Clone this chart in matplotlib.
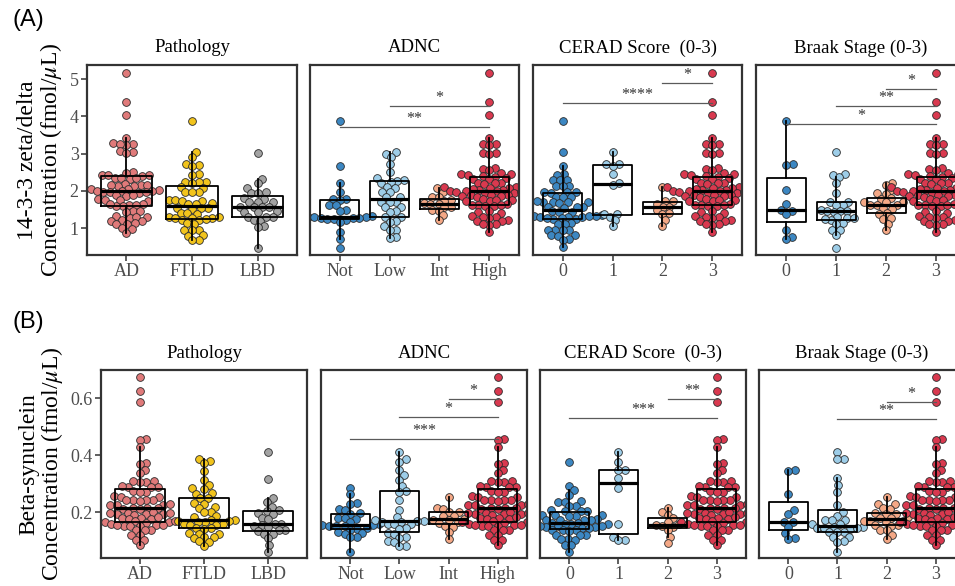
import matplotlib.pyplot as plt
import numpy as np

plt.rcParams['font.family'] = ['Liberation Serif', 'DejaVu Serif']
plt.rcParams['mathtext.fontset'] = 'stix'

# ---- (A) 14-3-3 zeta/delta, fmol/uL ----
zeta_ad = [5.17, 4.38, 4.03, 3.43, 3.28, 3.25, 3.22, 3.27, 3.07, 3.05, 3.03, 2.52, 2.49,
           2.44, 2.43, 2.42, 2.41, 2.36, 2.34, 2.31, 2.35, 2.19, 2.15, 2.12, 2.17, 2.13, 2.15,
           1.94, 2.06, 1.98, 2.02, 2.00, 1.96, 2.04, 1.99, 2.01, 1.97, 1.89, 1.86, 1.88,
           1.77, 1.75, 1.73, 1.76, 1.65, 1.62, 1.59, 1.60, 1.63, 1.66, 1.47, 1.44, 1.45,
           1.33, 1.30, 1.28, 1.31, 1.22, 1.20, 1.18, 1.13, 1.10, 1.12, 1.01, 0.98, 0.88]
zeta_ftld = [3.88, 3.04, 2.90, 2.72, 2.70, 2.68, 2.46, 2.44, 2.25, 2.24, 2.23, 2.22, 2.11, 2.09,
             1.98, 1.97, 1.96, 1.76, 1.75, 1.74, 1.73, 1.67, 1.66, 1.65, 1.54, 1.53, 1.52, 1.55,
             1.41, 1.40, 1.39, 1.29, 1.26, 1.22, 1.27, 1.24, 1.30, 1.23, 1.28, 1.13, 1.11,
             0.96, 0.95, 0.94, 0.82, 0.80, 0.69, 0.67]
zeta_lbd = [3.03, 2.33, 2.21, 2.09, 1.96, 1.95, 1.94, 1.81, 1.79, 1.71, 1.70, 1.69, 1.58, 1.57,
            1.56, 1.57, 1.45, 1.44, 1.43, 1.31, 1.30, 1.29, 1.22, 1.20, 1.05, 1.04, 0.48]
zeta_adnc_not = [3.88, 2.67, 2.20, 1.97, 1.78, 1.77, 1.76, 1.63, 1.61, 1.49, 1.47, 1.33, 1.31,
                 1.30, 1.29, 1.28, 1.27, 1.25, 1.26, 1.24, 1.22, 1.17, 0.90, 0.70, 0.48]
zeta_adnc_low = [3.04, 3.00, 2.90, 2.73, 2.50, 2.35, 2.29, 2.27, 2.25, 2.22, 2.11, 2.09, 1.98,
                 1.96, 1.85, 1.83, 1.71, 1.70, 1.69, 1.58, 1.56, 1.45, 1.43, 1.31, 1.29, 1.18,
                 1.16, 1.05, 0.96, 0.94, 0.76, 0.74]
zeta_adnc_int = [2.08, 1.97, 1.85, 1.83, 1.76, 1.74, 1.67, 1.66, 1.65, 1.58, 1.56, 1.49, 1.47,
                 1.35, 1.21]
zeta_adnc_high = [5.17, 4.38, 4.03, 3.43, 3.27, 3.25, 3.22, 3.03, 3.01, 2.98, 2.62, 2.58, 2.55,
                  2.48, 2.46, 2.45, 2.44, 2.40, 2.38, 2.35, 2.33, 2.32, 2.22, 2.21, 2.20, 2.19,
                  2.11, 2.10, 2.09, 2.08, 2.05, 2.02, 1.95, 2.00, 1.97, 2.03, 1.99, 1.94, 2.06,
                  2.01, 1.98, 1.96, 1.90, 1.88, 1.85, 1.87, 1.86, 1.89, 1.78, 1.75, 1.72, 1.74,
                  1.76, 1.65, 1.62, 1.59, 1.63, 1.61, 1.60, 1.47, 1.44, 1.42, 1.33, 1.30, 1.28,
                  1.31, 1.22, 1.20, 1.19, 1.11, 1.09, 1.12, 0.90]
zeta_cerad_0 = [3.88, 3.04, 2.67, 2.46, 2.44, 2.30, 2.29, 2.28, 2.14, 2.13, 2.12, 1.98, 1.97,
                1.96, 1.95, 1.85, 1.84, 1.83, 1.71, 1.70, 1.69, 1.72, 1.70, 1.68, 1.58, 1.57,
                1.56, 1.55, 1.45, 1.44, 1.43, 1.36, 1.33, 1.31, 1.29, 1.27, 1.34, 1.25, 1.30,
                1.24, 1.35, 1.28, 1.32, 1.13, 1.12, 1.11, 0.96, 0.95, 0.94, 0.96, 0.82, 0.81,
                0.80, 0.71, 0.69, 0.50]
zeta_cerad_1 = [3.04, 2.73, 2.72, 2.68, 2.46, 2.22, 2.15, 1.39, 1.38, 1.30, 1.21, 1.05]
zeta_cerad_2 = [2.10, 1.73, 1.72, 1.66, 1.58, 1.57, 1.48, 1.40, 1.38, 1.21, 1.05]
zeta_cerad_3 = zeta_adnc_high
zeta_braak_0 = [3.88, 2.72, 2.70, 2.02, 1.66, 1.50, 1.46, 1.39, 0.96, 0.77, 0.72]
zeta_braak_1 = [3.04, 2.46, 2.44, 2.37, 2.21, 1.95, 1.71, 1.69, 1.63, 1.61, 1.49, 1.47, 1.46,
                1.45, 1.44, 1.29, 1.26, 1.23, 1.27, 1.24, 1.13, 1.11, 0.96, 0.94, 0.81, 0.48]
zeta_braak_2 = [2.21, 2.15, 2.02, 1.94, 1.92, 1.81, 1.79, 1.71, 1.70, 1.69, 1.63, 1.62, 1.61,
                1.54, 1.52, 1.40, 1.38, 1.27, 1.25, 1.12, 0.95]
zeta_braak_3 = zeta_adnc_high

# ---- (B) beta-synuclein, fmol/uL ----
beta_ad = [0.675, 0.627, 0.586, 0.457, 0.455, 0.431, 0.372, 0.370, 0.349, 0.337, 0.310, 0.308,
           0.306, 0.309, 0.291, 0.290, 0.289, 0.292, 0.274, 0.273, 0.272, 0.256, 0.255, 0.254,
           0.244, 0.243, 0.242, 0.245, 0.241, 0.227, 0.226, 0.225, 0.228, 0.215, 0.214, 0.213,
           0.216, 0.212, 0.199, 0.196, 0.193, 0.198, 0.194, 0.200, 0.197, 0.192, 0.181, 0.179,
           0.177, 0.183, 0.176, 0.169, 0.167, 0.165, 0.170, 0.164, 0.158, 0.155, 0.152, 0.157,
           0.151, 0.156, 0.154, 0.139, 0.138, 0.137, 0.121, 0.119, 0.104, 0.102, 0.085]
beta_ftld = [0.387, 0.380, 0.372, 0.347, 0.314, 0.296, 0.285, 0.283, 0.268, 0.266, 0.251, 0.249,
             0.233, 0.231, 0.219, 0.217, 0.203, 0.201, 0.186, 0.184, 0.174, 0.171, 0.169, 0.172,
             0.166, 0.167, 0.161, 0.159, 0.157, 0.156, 0.145, 0.144, 0.143, 0.127, 0.126, 0.125,
             0.113, 0.112, 0.111, 0.098, 0.096, 0.082]
beta_lbd = [0.411, 0.317, 0.252, 0.238, 0.220, 0.207, 0.204, 0.198, 0.195, 0.180, 0.178, 0.160,
            0.158, 0.155, 0.152, 0.150, 0.140, 0.137, 0.134, 0.126, 0.125, 0.109, 0.085, 0.062]
beta_adnc_not = [0.287, 0.263, 0.233, 0.231, 0.211, 0.209, 0.197, 0.195, 0.180, 0.179, 0.178,
                 0.168, 0.158, 0.156, 0.155, 0.153, 0.152, 0.151, 0.145, 0.143, 0.140, 0.131,
                 0.128, 0.125, 0.115, 0.113, 0.062]
beta_adnc_low = [0.413, 0.387, 0.378, 0.349, 0.331, 0.314, 0.293, 0.274, 0.272, 0.243, 0.208,
                 0.185, 0.173, 0.171, 0.170, 0.168, 0.166, 0.160, 0.159, 0.158, 0.145, 0.143,
                 0.127, 0.125, 0.113, 0.111, 0.098, 0.096, 0.083, 0.081]
beta_adnc_int = [0.253, 0.215, 0.213, 0.203, 0.201, 0.188, 0.186, 0.176, 0.175, 0.174, 0.165,
                 0.163, 0.151, 0.149, 0.132, 0.105]
beta_adnc_high = beta_ad
beta_cerad_0 = [0.376, 0.294, 0.279, 0.261, 0.239, 0.238, 0.237, 0.223, 0.221, 0.207, 0.206,
                0.205, 0.204, 0.192, 0.191, 0.190, 0.189, 0.188, 0.176, 0.175, 0.174, 0.173,
                0.172, 0.164, 0.161, 0.158, 0.163, 0.160, 0.159, 0.155, 0.152, 0.148, 0.146,
                0.154, 0.150, 0.153, 0.147, 0.139, 0.138, 0.137, 0.136, 0.121, 0.120, 0.119,
                0.106, 0.105, 0.104, 0.086, 0.084, 0.062]
beta_cerad_1 = [0.413, 0.378, 0.350, 0.348, 0.320, 0.284, 0.161, 0.114, 0.104, 0.103]
beta_cerad_2 = [0.214, 0.202, 0.191, 0.179, 0.167, 0.159, 0.155, 0.152, 0.150, 0.138, 0.112,
                0.091]
beta_cerad_3 = beta_ad
beta_braak_0 = [0.348, 0.346, 0.264, 0.210, 0.196, 0.168, 0.165, 0.150, 0.128, 0.110, 0.108]
beta_braak_1 = [0.413, 0.388, 0.386, 0.320, 0.296, 0.273, 0.226, 0.202, 0.187, 0.174, 0.173,
                0.172, 0.160, 0.158, 0.150, 0.147, 0.143, 0.149, 0.145, 0.144, 0.133, 0.132,
                0.131, 0.115, 0.113, 0.098, 0.096, 0.062]
beta_braak_2 = [0.253, 0.230, 0.228, 0.215, 0.213, 0.197, 0.196, 0.195, 0.183, 0.182, 0.181,
                0.171, 0.170, 0.169, 0.168, 0.156, 0.155, 0.154, 0.139, 0.137, 0.120, 0.105]
beta_braak_3 = beta_ad

path_labels = ['AD', 'FTLD', 'LBD']
adnc_labels = ['Not', 'Low', 'Int', 'High']
stage_labels = ['0', '1', '2', '3']
titles = ['Pathology', 'ADNC', 'CERAD Score  (0-3)', 'Braak Stage (0-3)']
path_colors = ['#E07A7A', '#F2C41C', '#A3A3A3']
stage_colors = ['#3C87C2', '#9DCDE8', '#F4A886', '#D9394F']

# (from, to, height, label)
zeta_sig = [[], [(1, 3, 4.27, '*'), (0, 3, 3.71, '**')],
            [(2, 3, 4.89, '*'), (0, 3, 4.35, '****')],
            [(2, 3, 4.73, '*'), (1, 3, 4.27, '**'), (0, 3, 3.79, '*')]]
beta_sig = [[], [(2, 3, 0.598, '*'), (1, 3, 0.534, '*'), (0, 3, 0.458, '***')],
            [(2, 3, 0.598, '**'), (0, 3, 0.532, '***')],
            [(2, 3, 0.589, '*'), (1, 3, 0.528, '**')]]

W, H = 955, 586
fig = plt.figure(figsize=(W / 100, H / 100), dpi=100)


def swarm_x(ax, values, center, diam=6.6):
    # simple beeswarm: place points bottom-up, as close to the centre as possible
    pts = ax.transData.transform(np.column_stack([np.full(len(values), center), values]))
    ys = pts[:, 1]
    order = np.argsort(ys)
    offs = np.zeros(len(values))
    placed = []
    for i in order:
        y = ys[i]
        near = [(px, py) for px, py in placed if abs(py - y) < diam]
        cands = [0.0]
        for px, py in near:
            dx = np.sqrt(diam ** 2 - (py - y) ** 2)
            cands += [px + dx, px - dx]
        cands.sort(key=abs)
        for c in cands:
            if all((c - px) ** 2 + (y - py) ** 2 >= diam ** 2 - 1e-6 for px, py in near):
                offs[i] = c
                break
        placed.append((offs[i], y))
    unit = ax.transData.transform((1, 0))[0] - ax.transData.transform((0, 0))[0]
    return center + offs / unit


def draw_panel(rect, title, labels, groups, colors, sig, ylim, yticks, first):
    x0, x1, y0, y1 = rect
    ax = fig.add_axes([x0 / W, 1 - y1 / H, (x1 - x0) / W, (y1 - y0) / H])
    n = len(groups)
    ax.set_xlim(-0.6, n - 0.4)
    ax.set_ylim(*ylim)
    for i, (vals, c) in enumerate(zip(groups, colors)):
        ax.scatter(swarm_x(ax, vals, i), vals, s=31, color=c, edgecolors='#2a2a2a',
                   linewidths=0.6, zorder=2)
    ax.boxplot(groups, positions=range(n), widths=0.78, whis=1.5, showfliers=False,
               showcaps=False, manage_ticks=False, zorder=3,
               boxprops=dict(color='black', linewidth=1.3),
               whiskerprops=dict(color='black', linewidth=1.3),
               medianprops=dict(color='black', linewidth=2.3))
    for a, b, h, lab in sig:
        ax.plot([a, b], [h, h], color='#5a5a5a', linewidth=0.9, zorder=4)
        ax.text((a + b) / 2, h, lab, ha='center', va='bottom', fontsize=11.5, color='#333333')
    ax.set_xticks(range(n))
    ax.set_xticklabels(labels)
    ax.set_yticks(yticks)
    ax.set_yticklabels([str(t) for t in yticks])
    ax.tick_params(direction='out', length=4, width=1.1, color='#333333',
                   labelcolor='#4D4D4D', labelsize=13, pad=2)
    if not first:
        ax.tick_params(axis='y', left=False, labelleft=False)
    for s in ax.spines.values():
        s.set_linewidth(1.6)
        s.set_color('#333333')
    ax.set_title(title, fontsize=13.5, pad=9)
    return ax


top_rects = [(87, 297, 65, 255), (310, 519, 65, 255), (533, 742, 65, 255), (756, 966, 65, 255)]
bot_rects = [(101, 307, 370, 558), (321, 527, 370, 558), (540, 746, 370, 558), (759, 965, 370, 558)]

zeta_groups = [[zeta_ad, zeta_ftld, zeta_lbd],
               [zeta_adnc_not, zeta_adnc_low, zeta_adnc_int, zeta_adnc_high],
               [zeta_cerad_0, zeta_cerad_1, zeta_cerad_2, zeta_cerad_3],
               [zeta_braak_0, zeta_braak_1, zeta_braak_2, zeta_braak_3]]
beta_groups = [[beta_ad, beta_ftld, beta_lbd],
               [beta_adnc_not, beta_adnc_low, beta_adnc_int, beta_adnc_high],
               [beta_cerad_0, beta_cerad_1, beta_cerad_2, beta_cerad_3],
               [beta_braak_0, beta_braak_1, beta_braak_2, beta_braak_3]]
all_labels = [path_labels, adnc_labels, stage_labels, stage_labels]
all_colors = [path_colors, stage_colors, stage_colors, stage_colors]

for k in range(4):
    ax = draw_panel(top_rects[k], titles[k], all_labels[k], zeta_groups[k], all_colors[k],
                    zeta_sig[k], (0.28, 5.38), [1, 2, 3, 4, 5], k == 0)
    if k == 0:
        ax.set_ylabel('14-3-3 zeta/delta\nConcentration (fmol/$\\mu$L)', fontsize=17,
                      linespacing=1.0, labelpad=4)
for k in range(4):
    ax = draw_panel(bot_rects[k], titles[k], all_labels[k], beta_groups[k], all_colors[k],
                    beta_sig[k], (0.04, 0.70), [0.2, 0.4, 0.6], k == 0)
    if k == 0:
        ax.set_ylabel('Beta-synuclein\nConcentration (fmol/$\\mu$L)', fontsize=17,
                      linespacing=1.0, labelpad=4)

fig.text(12 / W, 1 - 9 / H, '(A)', family='Liberation Sans', fontsize=17, va='top')
fig.text(12 / W, 1 - 311 / H, '(B)', family='Liberation Sans', fontsize=17, va='top')

fig.savefig('out.png', dpi=100)
